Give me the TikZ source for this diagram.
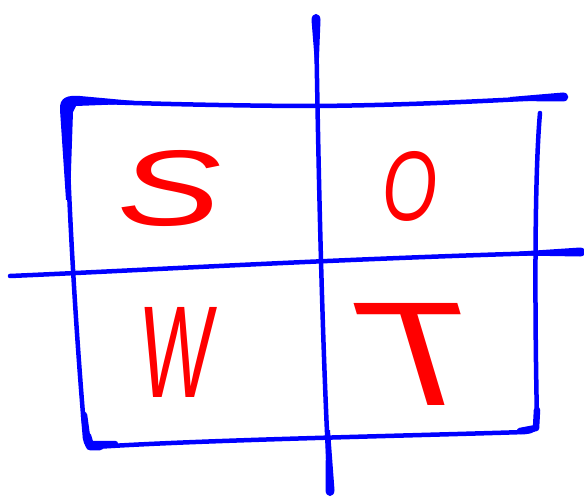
\documentclass[tikz,border=0pt]{standalone}
\usepackage{graphicx}
\usepackage{fontspec}
\setmainfont{Liberation Sans}
\definecolor{penblue}{RGB}{0,0,255}
\definecolor{penred}{RGB}{255,0,0}
\tikzset{
  pen/.style={draw=penblue, line width=4.5pt, line cap=round, line join=round},
  blob/.style={fill=penblue},
  letter/.style={text=penred, inner sep=0pt}
}
\begin{document}
\begin{tikzpicture}[x=1pt, y=-1pt]
\useasboundingbox (0,0) rectangle (584,500);
% outer frame (one stroke: right edge, bottom, left edge, top)
\draw[pen] (540,113) .. controls (534,180) and (535,330) .. (537,420)
  .. controls (537,430) and (533,431) .. (525,432)
  .. controls (400,436) and (200,440) .. (95,447)
  .. controls (88,447) and (86,444) .. (85,438)
  .. controls (80,380) and (70,250) .. (66,108)
  .. controls (66,102) and (68,101) .. (75,101)
  .. controls (150,104) and (250,106) .. (317,106)
  .. controls (420,105) and (500,100) .. (563,97);
% centre lines
\draw[pen] (316,17) .. controls (318,150) and (322,350) .. (330,492);
\draw[pen] (10,276) .. controls (150,270) and (350,258) .. (580,252);
% thick pen ends
\fill[blob] (311.5,20) .. controls (311.5,12) and (320.5,12) .. (320.5,20) -- (318.5,70) -- (315.5,70) -- cycle;
\fill[blob] (326,430) -- (330,430) -- (334.5,490) .. controls (334.5,498) and (325.5,498) .. (325.5,490) -- cycle;
\fill[blob] (520,251.5) -- (580,247.5) .. controls (587,247.5) and (587,256.5) .. (580,256.5) -- (520,255.5) -- cycle;
\fill[blob] (510,97) -- (563,92.5) .. controls (570,92.5) and (570,101.5) .. (563,101.5) -- (510,101) -- cycle;
\fill[blob] (60,110) .. controls (59,97) and (68,95) .. (80,96) -- (140,101.5) -- (140,103.5) -- (76,106) -- (73,112) -- (70,200) -- (66,200) -- cycle;
\draw[pen, line width=6.5pt] (84,415) -- (88,444) -- (115,444);
\draw[pen, line width=8.5pt] (87,436) -- (90,446) -- (100,446);
\draw[pen, line width=6.5pt] (537,410) -- (536,428) -- (520,431);
% letters
\node[letter, font=\itshape] (s) at (170,188) {\resizebox{104pt}{75pt}{S}};
\node[letter, font=\itshape] (o) at (410,186) {\resizebox{55pt}{69pt}{O}};
\node[letter, xslant=0.08] (w) at (178,352) {\resizebox{73pt}{90pt}{W}};
\node[letter, xslant=-0.3] (t) at (421,354) {\resizebox{112pt}{102pt}{T}};
\end{tikzpicture}
\end{document}
